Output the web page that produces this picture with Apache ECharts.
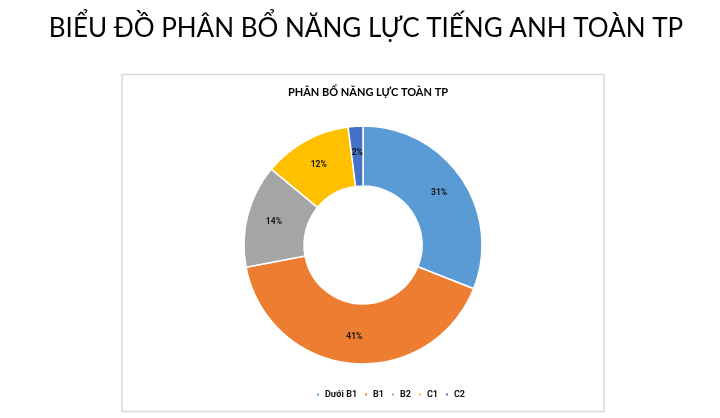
<!DOCTYPE html>
<html>
<head>
<meta charset="utf-8">
<script src="https://cdn.jsdelivr.net/npm/echarts@6/dist/echarts.min.js"></script>
<style>
  html, body { margin: 0; padding: 0; background: #fff; }
  #chart { width: 720px; height: 418px; }
</style>
</head>
<body>
<div id="chart"></div>
<script>
// du lieu bieu do
const categories = ['Dưới B1', 'B1', 'B2', 'C1', 'C2'];
const percents = [31, 41, 14, 12, 2];
const colors = ['#5B9BD5', '#ED7D31', '#A5A5A5', '#FFC000', '#4472C4'];

const chart = echarts.init(document.getElementById('chart'));

chart.setOption({
  animation: false,
  color: colors,
  title: [{
    text: 'BIỂU ĐỒ PHÂN BỔ NĂNG LỰC TIẾNG ANH TOÀN TP',
    left: 361,
    textAlign: 'center',
    top: 11,
    textStyle: {
      fontFamily: 'Lato',
      fontWeight: 'normal',
      fontSize: 26,
      color: '#000'
    }
  }, {
    text: 'PHÂN BỔ NĂNG LỰC TOÀN TP',
    left: 363,
    textAlign: 'center',
    top: 82,
    textStyle: {
      fontFamily: 'Lato',
      fontWeight: 'bold',
      fontSize: 11,
      color: '#000'
    }
  }],
  graphic: [{
    type: 'rect',
    shape: { x: 122, y: 74.5, width: 482, height: 337 },
    style: { fill: 'none', stroke: '#d9d9d9', lineWidth: 1.5 },
    z: -1
  }],
  legend: {
    data: categories,
    left: 310,
    top: 385,
    icon: 'rect',
    itemWidth: 4,
    itemHeight: 4,
    itemGap: 6,
    textStyle: {
      fontFamily: 'Roboto',
      fontWeight: 'bold',
      fontSize: 9,
      color: '#111'
    }
  },
  series: [{
    type: 'pie',
    center: [363, 245],
    radius: [59, 119],
    startAngle: 90,
    clockwise: true,
    itemStyle: { borderColor: '#fff', borderWidth: 1.5 },
    label: {
      show: true,
      position: 'inside',
      formatter: '{c}%',
      fontFamily: 'Roboto',
      fontWeight: 'bold',
      fontSize: 8.5,
      color: '#111'
    },
    labelLine: { show: false },
    data: categories.map((name, i) => ({ name: name, value: percents[i] }))
  }]
});
</script>
</body>
</html>
